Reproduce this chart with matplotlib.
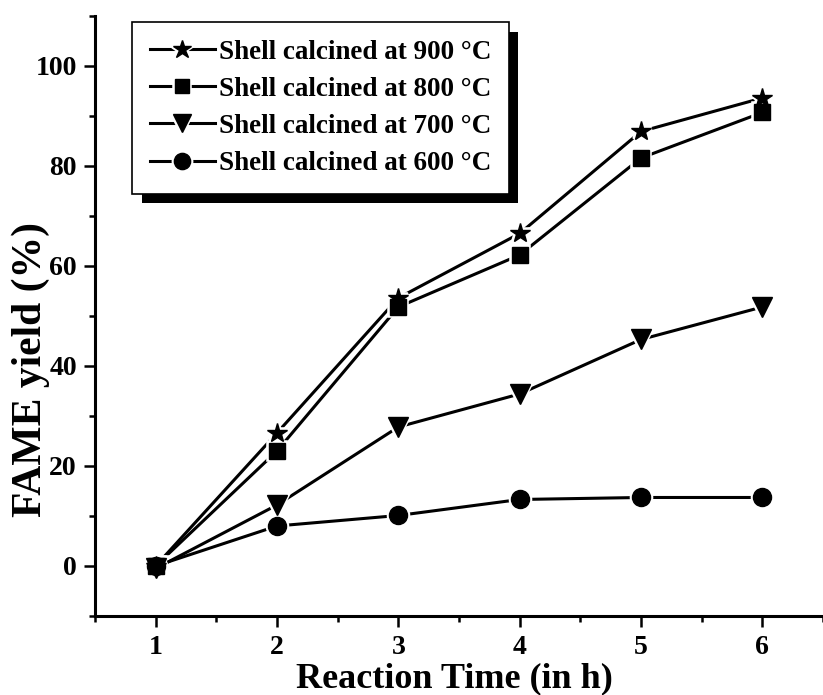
import matplotlib
matplotlib.use("Agg")
import matplotlib.pyplot as plt
import matplotlib.patheffects as pe
from matplotlib.ticker import MultipleLocator

# Data
time_h = [1, 2, 3, 4, 5, 6]
yield_900 = [0, 26.6, 53.6, 66.5, 86.9, 93.6]
yield_800 = [0, 23.0, 51.8, 62.2, 81.6, 90.7]
yield_700 = [-0.5, 12.2, 27.8, 34.4, 45.3, 51.8]
yield_600 = [0, 8.0, 10.1, 13.3, 13.7, 13.7]

labels = ["Shell calcined at 900 °C", "Shell calcined at 800 °C",
          "Shell calcined at 700 °C", "Shell calcined at 600 °C"]
markers = ["*", "s", "v", "o"]
sizes = [15, 11.5, 14.5, 13]

plt.rcParams['font.family'] = ['Liberation Serif', 'DejaVu Serif']
plt.rcParams['font.weight'] = 'bold'

fig = plt.figure(figsize=(8.23, 6.95), dpi=100)
ax = fig.add_axes([0.1154, 0.1137, 0.8846, 0.8633])

handles = []
for ys, m, ms in zip([yield_900, yield_800, yield_700, yield_600], markers, sizes):
    # line with a white halo round each marker, so the line stops short of it
    halo, = ax.plot(time_h, ys, color='black', lw=2.2, marker=m, ms=ms,
                    mfc='black', mec='white', mew=4, zorder=2)
    dots, = ax.plot(time_h, ys, ls='none', marker=m, ms=ms, color='black', zorder=3)
    handles.append((halo, dots))

ax.set_xlim(0.5, 6.5)
ax.set_ylim(-10, 110)
ax.xaxis.set_major_locator(MultipleLocator(1))
ax.xaxis.set_minor_locator(MultipleLocator(0.5))
ax.yaxis.set_minor_locator(MultipleLocator(10))
ax.set_yticks([0, 20, 40, 60, 80, 100])

for s in ['top', 'right']:
    ax.spines[s].set_visible(False)
for s in ['left', 'bottom']:
    ax.spines[s].set_linewidth(2.2)

ax.tick_params(which='major', direction='out', length=8, width=1.8, labelsize=20)
ax.tick_params(axis='x', which='major', pad=6)
ax.tick_params(axis='y', which='major', pad=5)
ax.tick_params(which='minor', direction='out', length=4.5, width=1.8)

ax.set_xlabel('Reaction Time (in h)', fontsize=26, fontweight='bold', va='top')
ax.xaxis.set_label_coords(0.494, -0.077)
ax.set_ylabel('FAME yield (%)', fontsize=30, fontweight='bold')
ax.yaxis.set_label_coords(-0.062, 0.41)

leg = ax.legend(handles, labels, loc='upper left', bbox_to_anchor=(0.051, 0.99),
                borderaxespad=0, fancybox=False, edgecolor='black', framealpha=1,
                fontsize=19.5, handlelength=2.4, handletextpad=0.15, markerscale=0.9,
                borderpad=0.65, labelspacing=0.45)
leg.get_frame().set_linewidth(1.2)
leg.get_frame().set_path_effects([pe.SimplePatchShadow(offset=(7, -7), shadow_rgbFace='black', alpha=1), pe.Normal()])

plt.savefig("out.png", dpi=100)
